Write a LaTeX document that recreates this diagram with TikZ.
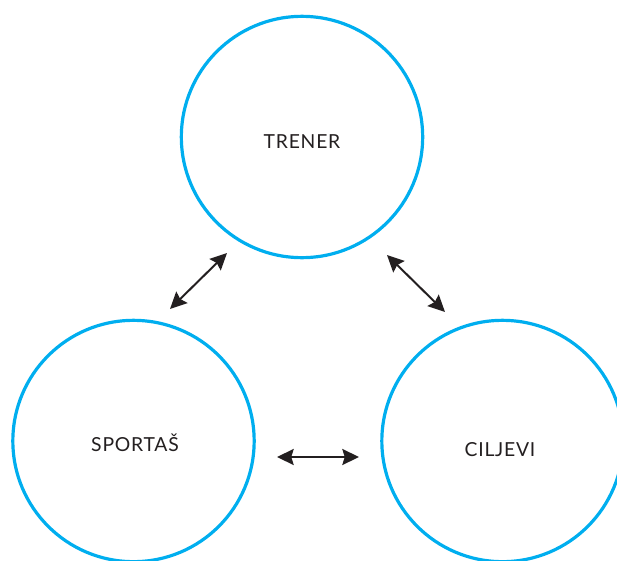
\documentclass[tikz,border=0pt]{standalone}
\usepackage{fontspec}
\setmainfont{Lato}
\usetikzlibrary{arrows.meta}
\definecolor{ringblue}{HTML}{00AEEF}
\definecolor{inkdark}{HTML}{231F20}
\tikzset{
  ring/.style={circle, draw=ringblue, line width=2.4pt, minimum size=181pt, inner sep=0pt},
  caption/.style={text=inkdark, font=\fontsize{14.5}{17}\selectfont\addfontfeature{LetterSpace=4}},
  tip/.style={Stealth[length=12.5pt, width=12pt, inset=1.8pt]},
  link/.style={draw=inkdark, line width=1.5pt, {Stealth[length=12.5pt, width=12pt, inset=1.8pt]}-{Stealth[length=12.5pt, width=12pt, inset=1.8pt]}}
}
\begin{document}
\begin{tikzpicture}[x=0.75pt, y=0.75pt]
  \useasboundingbox (0,0) rectangle (617,-560);
  \clip (0,0) rectangle (617,-560);
  % three circles
  \node[ring] (trener) at (302,-137) {};
  \node[ring] (sportas) at (133.5,-441) {};
  \node[ring] (ciljevi) at (502.5,-441) {};
  % labels
  \node[caption] (ttrener) at (302,-142) {TRENER};
  \node[caption] (tsportas) at (135,-443) {SPORTAŠ};
  \node[caption] (tciljevi) at (500,-450) {CILJEVI};
  % arrow end points
  \coordinate (a1) at (170,-309);
  \coordinate (a2) at (227,-253);
  \coordinate (b1) at (387,-255);
  \coordinate (b2) at (445,-312);
  \coordinate (c1) at (277,-457);
  \coordinate (c2) at (359,-457);
  \draw[link] (a1) -- (a2);
  \draw[link] (b1) -- (b2);
  \draw[link] (c1) -- (c2);
\end{tikzpicture}
\end{document}
